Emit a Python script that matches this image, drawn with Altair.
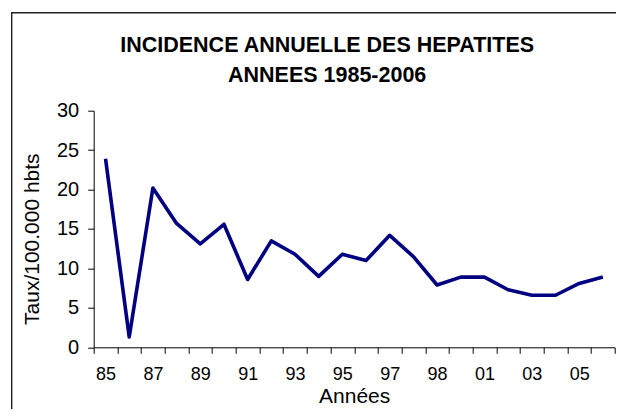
import altair as alt
import pandas as pd

# Category labels as printed on the x axis (one per year, 1985-2006)
year_labels = ["85", "86", "87", "88", "89", "90", "91", "92", "93", "94", "95",
               "96", "97", "98", "98", "00", "01", "02", "03", "04", "05", "06"]
# Incidence rate (per 100.000 inhabitants)
rates = [23.9, 1.3, 20.2, 15.7, 13.1, 15.6, 8.6, 13.5, 11.8, 9.0, 11.8,
         11.0, 14.2, 11.5, 7.9, 8.9, 8.9, 7.3, 6.6, 6.6, 8.1, 8.9]
y_ticks = [0, 5, 10, 15, 20, 25, 30]

df = pd.DataFrame({"idx": list(range(len(rates))), "label": year_labels, "rate": rates})

FONT = "Liberation Sans"
n = len(rates)
band_edges = [i - 0.5 for i in range(n + 1)]
label_pos = [i for i in range(0, n, 2)]
labels_js = "[" + ",".join("'" + s + "'" for s in year_labels) + "]"

x_axis = alt.Axis(
    values=band_edges + label_pos,
    labelExpr=f"datum.value % 2 == 0 ? {labels_js}[datum.value] : ''",
    tickOpacity={"condition": {"test": "datum.value % 1 == 0", "value": 0}, "value": 1},
    tickSize=6, tickColor="black", domainColor="black", tickWidth=1, domainWidth=1,
    labelFont=FONT, labelFontSize=18, labelColor="black", labelPadding=12,
    labelOverlap=False, labelFlush=False, labelBound=False,
    grid=False, title="Années", titleFont=FONT, titleFontSize=21,
    titleFontWeight="normal", titleColor="black", titleY=55, titleBaseline="alphabetic",
)
y_axis = alt.Axis(
    values=y_ticks, tickSize=6, tickColor="black", domainColor="black",
    labelFont=FONT, labelFontSize=20, labelColor="black", labelPadding=9,
    grid=False, title="Taux/100.000 hbts", titleFont=FONT, titleFontSize=21,
    titleFontWeight="normal", titleColor="black", titleX=-61, titleY=128,
    titleAlign="center", titleBaseline="middle", titleAngle=-90,
)

line = alt.Chart(df).mark_line(color="#000080", strokeWidth=3.6, strokeJoin="round").encode(
    x=alt.X("idx:Q", scale=alt.Scale(domain=[-0.5, n - 0.5], nice=False, zero=False), axis=x_axis),
    y=alt.Y("rate:Q", scale=alt.Scale(domain=[0, 30], nice=False), axis=y_axis),
)

frame = alt.Chart(pd.DataFrame({"f": [0]})).mark_rect(
    fill=None, stroke="#222222", strokeWidth=1.4
).encode(
    x=alt.value(-82), x2=alt.value(700), y=alt.value(-98), y2=alt.value(600)
)

chart = alt.layer(frame, line).properties(
    width=521, height=236.6,
    autosize=alt.AutoSizeParams(type="none"),
    padding={"left": 85.7, "top": 102.7, "right": 1, "bottom": 61.7},
    title=alt.TitleParams(
        text=["INCIDENCE ANNUELLE DES HEPATITES", "ANNEES 1985-2006"],
        font=FONT, fontSize=21.5, fontWeight="bold", color="black",
        anchor="middle", frame="group", dx=-27, offset=-74, lineHeight=29.3,
        baseline="top",
    ),
).configure_view(stroke=None)

chart.save("out.html", embed_options={"renderer": "svg", "actions": False})
